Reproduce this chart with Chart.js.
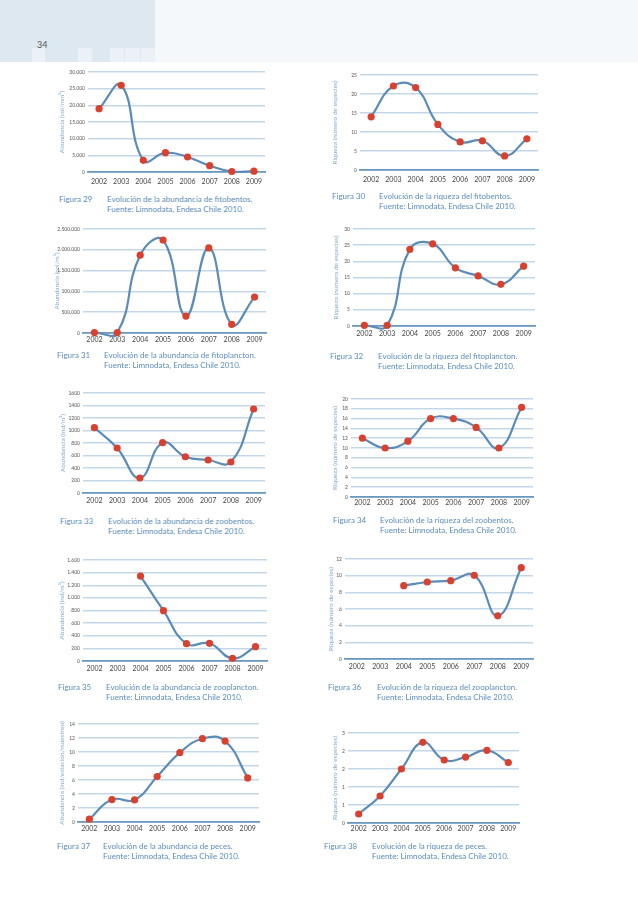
<!DOCTYPE html>
<html lang="es">
<head>
<meta charset="utf-8">
<title>Figuras 29-38</title>
<script src="https://cdn.jsdelivr.net/npm/chart.js@4.4.1/dist/chart.umd.min.js"></script>
<style>
  html, body { margin: 0; padding: 0; background: #fff; }
  body { width: 638px; height: 901px; position: relative; overflow: hidden; font-family: Lato, 'Open Sans', sans-serif; }
  .hdr { position: absolute; }
  .page-num { position: absolute; left: 37px; top: 39px; font-size: 9px; color: #555; }
  canvas { position: absolute; }
  .cap { position: absolute; font-size: 8px; line-height: 9.5px; color: #5b8dbb; white-space: nowrap; }
</style>
</head>
<body>
<div class="hdr" style="left:0;top:0;width:155px;height:62px;background:#dde8f1"></div>
<div class="hdr" style="left:155px;top:0;width:483px;height:62px;background:#f5f8fb"></div>
<div class="hdr" style="left:32px;top:48px;width:13px;height:14px;background:#ebf1f7"></div>
<div class="hdr" style="left:78px;top:48px;width:14px;height:14px;background:#ebf1f7"></div>
<div class="hdr" style="left:110px;top:48px;width:14px;height:14px;background:#ebf1f7"></div>
<div class="hdr" style="left:125px;top:48px;width:15px;height:14px;background:#ebf1f7"></div>
<div class="hdr" style="left:141px;top:48px;width:14px;height:14px;background:#ebf1f7"></div>
<div class="page-num">34</div>

<script>
const years = ['2002', '2003', '2004', '2005', '2006', '2007', '2008', '2009'];

// Fig 29 - abundancia fitobentos
const fitobentosAbund = [19000, 26000, 3500, 5800, 4500, 1900, 150, 250];
const fitobentosAbundTicks = ['0', '5.000', '10.000', '15.000', '20.000', '25.000', '30.000'];
// Fig 30 - riqueza fitobentos
const fitobentosRiq = [14, 22.1, 21.7, 12, 7.4, 7.7, 3.7, 8.2];
const fitobentosRiqTicks = ['0', '5', '10', '15', '20', '25'];
// Fig 31 - abundancia fitoplancton
const fitoplanctonAbund = [10000, 10000, 1870000, 2236000, 407000, 2045000, 208000, 863000];
const fitoplanctonAbundTicks = ['0', '500.000', '100.000', '1.500.000', '2.000.000', '2.500.000'];
// Fig 32 - riqueza fitoplancton
const fitoplanctonRiq = [0.2, 0.2, 23.7, 25.4, 18, 15.5, 12.9, 18.5];
const fitoplanctonRiqTicks = ['0', '5', '10', '15', '20', '25', '30'];
// Fig 33 - abundancia zoobentos
const zoobentosAbund = [1045, 720, 240, 805, 580, 528, 496, 1344];
const zoobentosAbundTicks = ['0', '200', '400', '600', '800', '1000', '1200', '1400', '1600'];
// Fig 34 - riqueza zoobentos
const zoobentosRiq = [12, 10, 11.4, 16, 16, 14.2, 10, 18.3];
const zoobentosRiqTicks = ['0', '2', '4', '6', '8', '10', '12', '14', '16', '18', '20'];
// Fig 35 - abundancia zooplancton
const zooplanctonAbund = [null, null, 1346, 797, 274, 280, 42, 227];
const zooplanctonAbundTicks = ['0', '200', '400', '600', '800', '1.000', '1.200', '1.400', '1.600'];
// Fig 36 - riqueza zooplancton
const zooplanctonRiq = [null, null, 8.8, 9.24, 9.4, 10.04, 5.18, 10.96];
const zooplanctonRiqTicks = ['0', '2', '4', '6', '8', '10', '12'];
// Fig 37 - abundancia peces
const pecesAbund = [0.4, 3.2, 3.15, 6.5, 9.9, 11.9, 11.56, 6.3];
const pecesAbundTicks = ['0', '2', '4', '6', '8', '10', '12', '14'];
// Fig 38 - riqueza peces
const pecesRiq = [0.25, 0.75, 1.5, 2.24, 1.75, 1.83, 2.02, 1.68];
const pecesRiqTicks = ['0', '1', '1', '2', '2', '3'];

const FONT = "Lato, 'Open Sans', sans-serif";
const riqTitle = 'Riqueza (número de especies)';
const source = 'Fuente: Limnodata, Endesa Chile 2010.';

const figures = [
  { num: 29, data: fitobentosAbund, max: 30000, step: 5000, ticks: fitobentosAbundTicks,
    yTitle: 'Abundancia (col/mm²)', text: 'Evolución de la abundancia de fitobentos.',
    box: { gl: 88, gr: 265, gt: 72, gb: 172, tx: 62, xo: 10 }, cap: { fx: 59, y: 200, tx: 107 } },
  { num: 30, data: fitobentosRiq, max: 25, step: 5, ticks: fitobentosRiqTicks,
    yTitle: riqTitle, text: 'Evolución de la riqueza del fitobentos.',
    box: { gl: 360, gr: 538, gt: 75, gb: 170, tx: 335, xo: 10 }, cap: { fx: 332, y: 197, tx: 379 } },
  { num: 31, data: fitoplanctonAbund, max: 2500000, step: 500000, ticks: fitoplanctonAbundTicks,
    yTitle: 'Abundancia (col/m³)', text: 'Evolución de la abundancia de fitoplancton.',
    box: { gl: 83, gr: 266, gt: 229, gb: 333, tx: 57, xo: 7 }, cap: { fx: 57, y: 356, tx: 104 } },
  { num: 32, data: fitoplanctonRiq, max: 30, step: 5, ticks: fitoplanctonRiqTicks,
    yTitle: riqTitle, text: 'Evolución de la riqueza del fitoplancton.',
    box: { gl: 353, gr: 535, gt: 229, gb: 326, tx: 336, xo: 7.5 }, cap: { fx: 330, y: 357, tx: 378 } },
  { num: 33, data: zoobentosAbund, max: 1600, step: 200, ticks: zoobentosAbundTicks,
    yTitle: 'Abundancia (Ind/m²)', text: 'Evolución de la abundancia de zoobentos.',
    box: { gl: 83, gr: 265, gt: 393, gb: 493, tx: 63, xo: 7.5 }, cap: { fx: 60, y: 522, tx: 108 } },
  { num: 34, data: zoobentosRiq, max: 20, step: 2, ticks: zoobentosRiqTicks,
    yTitle: riqTitle, text: 'Evolución de la riqueza del zoobentos.',
    box: { gl: 351, gr: 533, gt: 399, gb: 497, tx: 335, xo: 6 }, cap: { fx: 333, y: 521, tx: 380 } },
  { num: 35, data: zooplanctonAbund, max: 1600, step: 200, ticks: zooplanctonAbundTicks,
    yTitle: 'Abundancia (Ind/m³)', text: 'Evolución de la abundancia de zooplancton.',
    box: { gl: 83, gr: 267, gt: 560, gb: 661, tx: 62, xo: 8 }, cap: { fx: 58, y: 688, tx: 106 } },
  { num: 36, data: zooplanctonRiq, max: 12, step: 2, ticks: zooplanctonRiqTicks,
    yTitle: riqTitle, text: 'Evolución de la riqueza del zooplancton.',
    box: { gl: 345, gr: 533, gt: 559, gb: 659, tx: 331, xo: 8 }, cap: { fx: 328, y: 688, tx: 377 } },
  { num: 37, data: pecesAbund, max: 14, step: 2, ticks: pecesAbundTicks,
    yTitle: 'Abundancia (ind/estación/muestreo)', text: 'Evolución de la abundancia de peces.',
    box: { gl: 78, gr: 259, gt: 724, gb: 822, tx: 62, xo: 7 }, cap: { fx: 57, y: 847, tx: 103 } },
  { num: 38, data: pecesRiq, max: 2.5, step: 0.5, ticks: pecesRiqTicks,
    yTitle: riqTitle, text: 'Evolución de la riqueza de peces.',
    box: { gl: 348, gr: 519, gt: 733, gb: 823, tx: 335, xo: 6 }, cap: { fx: 324, y: 847, tx: 372 } }
];

const Y_W = 40, X_H = 22, PAD_T = 8, PAD_R = 8;
const TITLE_SIZE = 6.5;

figures.forEach(f => {
  const b = f.box;
  const left = b.gl - Y_W;
  const top = b.gt - PAD_T;
  const canvas = document.createElement('canvas');
  canvas.width = b.gr - left + PAD_R;
  canvas.height = b.gb - top + X_H;
  canvas.style.left = left + 'px';
  canvas.style.top = top + 'px';
  document.body.appendChild(canvas);

  new Chart(canvas.getContext('2d'), {
    type: 'line',
    data: {
      labels: years,
      datasets: [{
        data: f.data,
        borderColor: '#5b8cb8',
        borderWidth: 2.2,
        tension: 0.45,
        clip: false,
        pointRadius: 3.6,
        pointBackgroundColor: '#d9412f',
        pointBorderWidth: 0
      }]
    },
    options: {
      responsive: false,
      animation: false,
      events: [],
      layout: { padding: { top: PAD_T, right: PAD_R, left: 0, bottom: 0 } },
      elements: { line: { capBezierPoints: false } },
      plugins: { legend: { display: false }, tooltip: { enabled: false } },
      scales: {
        x: {
          offset: true,
          grid: { display: false, drawTicks: false },
          border: { display: true, color: '#6a98c1', width: 1.8 },
          ticks: { color: '#444', padding: b.xo - 4, font: { family: FONT, size: 7 }, maxRotation: 0, autoSkip: false },
          afterFit: s => { s.height = X_H; }
        },
        y: {
          min: 0,
          max: f.max,
          border: { display: false },
          grid: { color: '#c3d7e8', lineWidth: 1.5, drawTicks: false },
          ticks: {
            stepSize: f.step,
            padding: 3,
            color: '#555',
            font: { family: FONT, size: 5 },
            callback: (v, i) => f.ticks[i]
          },
          title: {
            display: true,
            text: f.yTitle,
            color: '#86acd0',
            font: { family: FONT, size: TITLE_SIZE },
            padding: { top: b.tx - left - TITLE_SIZE * 0.6, bottom: 0 }
          },
          afterFit: s => { s.width = Y_W; }
        }
      }
    }
  });

  const c = f.cap;
  const fig = document.createElement('div');
  fig.className = 'cap';
  fig.style.left = c.fx + 'px';
  fig.style.top = (c.y - 5) + 'px';
  fig.textContent = 'Figura ' + f.num;
  document.body.appendChild(fig);

  const txt = document.createElement('div');
  txt.className = 'cap';
  txt.style.left = c.tx + 'px';
  txt.style.top = (c.y - 5) + 'px';
  txt.innerHTML = f.text + '<br>' + source;
  document.body.appendChild(txt);
});
</script>
</body>
</html>
